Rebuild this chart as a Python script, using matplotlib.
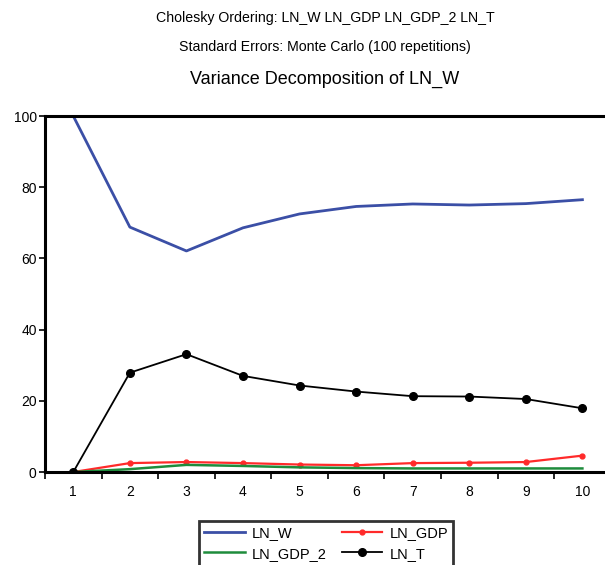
import numpy as np
import matplotlib
matplotlib.use("Agg")
import matplotlib.pyplot as plt

plt.rcParams['font.family'] = ['Liberation Sans', 'DejaVu Sans']

# forecast horizons
periods = [1, 2, 3, 4, 5, 6, 7, 8, 9, 10]

# share of variance (%)
ln_w = [100.0, 68.8, 62.1, 68.6, 72.5, 74.6, 75.3, 75.0, 75.4, 76.5]
ln_gdp = [0.0, 2.5, 2.8, 2.5, 2.1, 1.9, 2.5, 2.6, 2.8, 4.6]
ln_gdp_2 = [0.0, 0.8, 2.0, 1.7, 1.3, 1.1, 1.0, 1.0, 1.0, 1.0]
ln_t = [0.0, 27.9, 33.1, 27.0, 24.3, 22.6, 21.3, 21.2, 20.5, 17.9]

y_ticks = [0, 20, 40, 60, 80, 100]

fig = plt.figure(figsize=(6.05, 5.65), dpi=100)
ax = fig.add_axes([0.0744, 0.1646, 0.935, 0.630])

l_w, = ax.plot(periods, ln_w, color='#3b4fa6', lw=2.0, label='LN_W')
l_gdp, = ax.plot(periods, ln_gdp, color='#ff2a2a', lw=1.6, marker='o',
                 markersize=3.5, label='LN_GDP')
l_gdp2, = ax.plot(periods, ln_gdp_2, color='#1e8c3c', lw=1.8, label='LN_GDP_2')
l_t, = ax.plot(periods, ln_t, color='black', lw=1.3, marker='o',
               markersize=5.5, label='LN_T')

ax.set_xlim(0.5, 10.5)
ax.set_ylim(0, 100)

# ticks sit between periods, labels on the periods
ax.set_xticks(np.arange(0.5, 11, 1.0))
ax.set_xticklabels([])
ax.set_xticks(periods, minor=True)
ax.set_xticklabels([str(p) for p in periods], minor=True, fontsize=10)
ax.tick_params(axis='x', which='major', direction='out', length=5, width=1.2)
ax.tick_params(axis='x', which='minor', length=0, pad=9)
ax.set_yticks(y_ticks)
ax.set_yticklabels([str(v) for v in y_ticks], fontsize=10)
ax.tick_params(axis='y', direction='out', length=4, width=1.2, pad=2)

for side in ['left', 'bottom', 'top']:
    ax.spines[side].set_linewidth(2.2)
ax.spines['right'].set_visible(False)
ax.patch.set_alpha(0)

fig.text(0.537, 0.968, 'Cholesky Ordering: LN_W LN_GDP LN_GDP_2 LN_T',
         ha='center', va='center', fontsize=10.2)
fig.text(0.537, 0.917, 'Standard Errors: Monte Carlo (100 repetitions)',
         ha='center', va='center', fontsize=10.2)
fig.text(0.537, 0.860, 'Variance Decomposition of LN_W',
         ha='center', va='center', fontsize=13)

leg = fig.legend(handles=[l_w, l_gdp2, l_gdp, l_t], ncol=2, loc='upper center',
                 bbox_to_anchor=(0.539, 0.078), fontsize=10.5, frameon=True,
                 fancybox=False, handlelength=2.8, borderpad=0.35,
                 labelspacing=0.45, columnspacing=1.0, handletextpad=0.5,
                 borderaxespad=0)
leg.get_frame().set_edgecolor('black')
leg.get_frame().set_linewidth(2.0)

fig.savefig('out.png', dpi=100)
